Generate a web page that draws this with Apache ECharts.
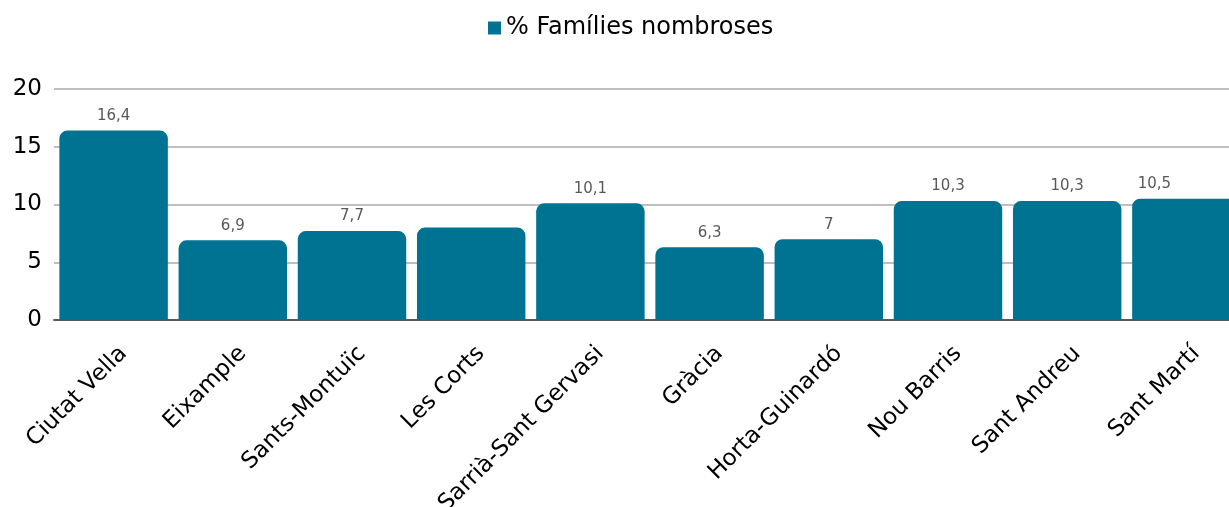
<!DOCTYPE html>
<html>
<head>
<meta charset="utf-8">
<script src="https://cdn.jsdelivr.net/npm/echarts@6/dist/echarts.min.js"></script>
<style>
html,body{margin:0;padding:0;background:#fff;}
#chart{width:1229px;height:507px;}
</style>
</head>
<body>
<div id="chart"></div>
<script>
const categories = ["Ciutat Vella","Eixample","Sants-Montuïc","Les Corts","Sarrià-Sant Gervasi","Gràcia","Horta-Guinardó","Nou Barris","Sant Andreu","Sant Martí"];
const values = [16.4, 6.9, 7.7, 8.0, 10.1, 6.3, 7.0, 10.3, 10.3, 10.5];
const seriesName = "% Famílies nombroses";
const FONT = "DejaVu Sans";

const chart = echarts.init(document.getElementById('chart'), null, {renderer:'canvas'});
const data = values.map((v, i) => {
  const d = {value: v};
  if (i === 3) d.label = {show: false};
  if (i === 9) d.label = {offset: [-32, 0]};
  return d;
});
chart.setOption({
  animation: false,
  textStyle: {fontFamily: FONT},
  legend: {
    top: 11, left: 483,
    itemWidth: 13, itemHeight: 13, itemGap: 10,
    icon: 'rect',
    textStyle: {fontSize: 24, color: '#000', fontFamily: FONT},
    data: [seriesName]
  },
  grid: {left: 54, width: 1192, top: 89, bottom: 187, containLabel: false, outerBoundsMode: 'none'},
  xAxis: {
    type: 'category', data: categories,
    axisLine: {lineStyle: {color: '#595959', width: 2}},
    axisTick: {show: false},
    axisLabel: {rotate: 45, fontSize: 23, color: '#000', margin: 40, padding: [0, -14, 0, 0], interval: 0, fontFamily: FONT}
  },
  yAxis: {
    type: 'value', min: 0, max: 20, interval: 5,
    axisLine: {show: false}, axisTick: {show: false},
    axisLabel: {fontSize: 23, color: '#000', margin: 12, fontFamily: FONT},
    splitLine: {lineStyle: {color: '#BFBFBF', width: 2}}
  },
  series: [{
    name: seriesName, type: 'bar', data: data,
    barCategoryGap: '9%',
    itemStyle: {color: '#007392', borderRadius: [8, 8, 0, 0]},
    label: {
      show: true, position: 'top', distance: 7,
      fontSize: 15, color: '#595959', fontFamily: FONT,
      formatter: p => String(p.value).replace('.', ',')
    }
  }]
});
</script>
</body>
</html>
